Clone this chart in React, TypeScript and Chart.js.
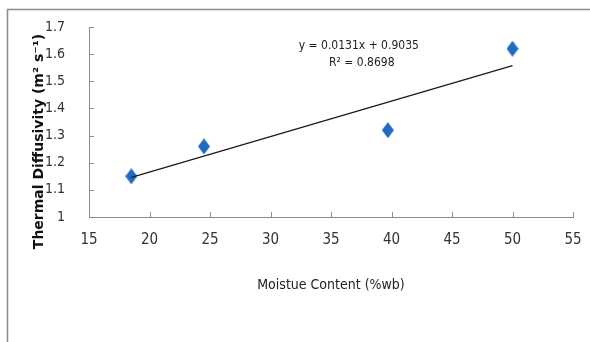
import React, { useEffect, useRef } from "react";
import { Chart, registerables } from "chart.js";

Chart.register(...registerables);

const moisture = [18.5, 24.5, 39.7, 50];
const diffusivity = [1.15, 1.26, 1.32, 1.62];
const trendX = [18.5, 50];
const trendY = [1.146, 1.558];
const equationLines = ["y = 0.0131x + 0.9035", "R² = 0.8698"];
const xTitle = "Moistue Content (%wb)";
const yTitle = "Thermal Diffusivity (m² s⁻¹)";

const FONT = "'DejaVu Sans Condensed', 'Liberation Sans Narrow', Arial, sans-serif";
const AXIS_COLOR = "#8c8c8c";

function makeDiamond(): HTMLCanvasElement {
  const c = document.createElement("canvas");
  c.width = 12;
  c.height = 16;
  const ctx = c.getContext("2d")!;
  ctx.fillStyle = "#1F6BC4";
  ctx.beginPath();
  ctx.moveTo(6, 0);
  ctx.lineTo(12, 8);
  ctx.lineTo(6, 16);
  ctx.lineTo(0, 8);
  ctx.closePath();
  ctx.fill();
  return c;
}

const framePlugin = {
  id: "frame",
  beforeDraw(chart: any) {
    const ctx = chart.ctx;
    ctx.save();
    ctx.fillStyle = "#ffffff";
    ctx.fillRect(0, 0, chart.width, chart.height);
    ctx.strokeStyle = "#8c8c8c";
    ctx.lineWidth = 1.5;
    ctx.strokeRect(7.5, 9.5, chart.width + 20, chart.height + 20);
    ctx.restore();
  },
};

// Inner tick marks (Excel style), placed from the scales' own ticks
const innerTicksPlugin = {
  id: "innerTicks",
  afterDraw(chart: any) {
    const ctx = chart.ctx;
    const xs = chart.scales.x;
    const ys = chart.scales.y;
    const area = chart.chartArea;
    ctx.save();
    ctx.strokeStyle = AXIS_COLOR;
    ctx.lineWidth = 1;
    ctx.beginPath();
    xs.ticks.forEach((t: any) => {
      const px = Math.round(xs.getPixelForValue(t.value)) + 0.5;
      ctx.moveTo(px, area.bottom);
      ctx.lineTo(px, area.bottom - 5);
    });
    ys.ticks.forEach((t: any) => {
      const py = Math.round(ys.getPixelForValue(t.value)) + 0.5;
      ctx.moveTo(area.left, py);
      ctx.lineTo(area.left + 5, py);
    });
    ctx.stroke();
    ctx.restore();
  },
};

const equationPlugin = {
  id: "equation",
  afterDatasetsDraw(chart: any) {
    const ctx = chart.ctx;
    const xs = chart.scales.x;
    const ys = chart.scales.y;
    ctx.save();
    ctx.fillStyle = "#222";
    ctx.font = `12px ${FONT}`;
    ctx.textAlign = "center";
    ctx.textBaseline = "middle";
    const cx = xs.getPixelForValue(37.3);
    ctx.fillText(equationLines[0], cx, ys.getPixelForValue(1.63));
    ctx.fillText(equationLines[1], cx + 3, ys.getPixelForValue(1.567));
    ctx.restore();
  },
};

export default function App() {
  const ref = useRef<HTMLCanvasElement>(null);
  useEffect(() => {
    const diamond = makeDiamond();
    const chart = new Chart(ref.current!, {
      type: "scatter",
      data: {
        datasets: [
          {
            type: "line",
            data: trendX.map((x, i) => ({ x, y: trendY[i] })),
            borderColor: "#1a1a1a",
            borderWidth: 1.3,
            pointRadius: 0,
            fill: false,
          },
          {
            data: moisture.map((x, i) => ({ x, y: diffusivity[i] })),
            pointStyle: diamond as any,
            pointRadius: 6,
            backgroundColor: "#1F6BC4",
            borderColor: "#1F6BC4",
          },
        ],
      },
      options: {
        responsive: false,
        animation: false,
        layout: { padding: { left: 0, top: 27, right: 17, bottom: 0 } },
        plugins: { legend: { display: false }, tooltip: { enabled: false } },
        scales: {
          x: {
            type: "linear",
            min: 15,
            max: 55,
            afterFit: (s: any) => {
              s.height = 125;
            },
            ticks: {
              stepSize: 5,
              padding: 0,
              color: "#333",
              font: { family: FONT, size: 15 },
            },
            grid: {
              drawOnChartArea: false,
              drawTicks: true,
              tickLength: 14,
              tickColor: "rgba(0,0,0,0)",
            },
            border: { display: true, color: AXIS_COLOR, width: 1 },
            title: {
              display: true,
              text: xTitle,
              color: "#222",
              font: { family: FONT, size: 14 },
              padding: { top: 0, bottom: 48 },
            },
          },
          y: {
            type: "linear",
            min: 1,
            max: 1.7,
            afterFit: (s: any) => {
              s.width = 89;
            },
            ticks: {
              stepSize: 0.1,
              padding: 0,
              color: "#333",
              font: { family: FONT, size: 14 },
              callback: (v: any) => String(Number(Number(v).toFixed(1))),
            },
            grid: {
              drawOnChartArea: false,
              drawTicks: true,
              tickLength: 24,
              tickColor: "rgba(0,0,0,0)",
            },
            border: { display: true, color: AXIS_COLOR, width: 1 },
            title: {
              display: true,
              text: yTitle + "\u00a0\u00a0\u00a0\u00a0\u00a0\u00a0\u00a0\u00a0",
              color: "#111",
              font: { family: "'DejaVu Sans', sans-serif", size: 14, weight: "bold" },
              padding: { top: 31, bottom: 0 },
            },
          },
        },
      },
      plugins: [framePlugin, innerTicksPlugin, equationPlugin],
    });
    return () => chart.destroy();
  }, []);
  return (
    <div style={{ position: "absolute", left: 0, top: 0, width: 590, height: 342 }}>
      <canvas ref={ref} width={590} height={342} />
    </div>
  );
}
